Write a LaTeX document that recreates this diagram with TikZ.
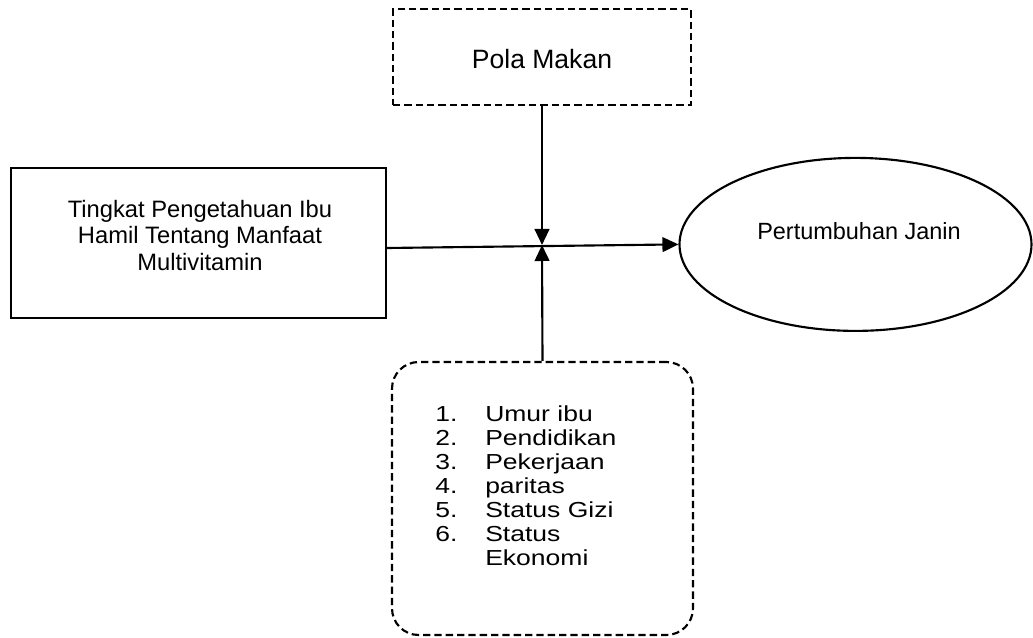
\documentclass[tikz,border=0pt]{standalone}
\usepackage{fontspec}
\setmainfont{Liberation Sans}
\newfontfamily\lebarfont{Liberation Sans}[FakeStretch=1.22]
\usetikzlibrary{shapes.geometric,arrows.meta}

\begin{document}
\begin{tikzpicture}[x=0.75pt,y=-0.75pt,
    >={Triangle[length=12pt,width=11pt]},
    kotak/.style={draw, line width=1.6pt, inner sep=0pt},
    putus/.style={dash pattern=on 5.5pt off 3pt},
    panah/.style={->, line width=1.6pt}]
    \useasboundingbox (0,0) rectangle (1033,638);

    \node[kotak, putus, minimum width=223.5pt, minimum height=72pt] (pola) at (542,57) {};
    \node[anchor=base, font=\fontsize{19.9}{24}\selectfont] (polateks) at (542,68.3) {Pola Makan};

    \node[kotak, minimum width=281.25pt, minimum height=112.5pt] (tingkat) at (198.5,243) {};
    \node[align=center, font=\fontsize{17.8}{20}\selectfont] (tingkatteks) at (200,235.5) {Tingkat Pengetahuan Ibu\\Hamil Tentang Manfaat\\Multivitamin};

    \node[kotak, ellipse, minimum width=264pt, minimum height=129.75pt] (janin) at (855.5,244.4) {};
    \node[anchor=base, font=\fontsize{17.6}{21}\selectfont] (janinteks) at (859,239.3) {Pertumbuhan Janin};

    \node[kotak, putus, rounded corners=20pt, minimum width=225.75pt, minimum height=204.75pt] (faktor) at (542.5,498.5) {};
    \node[anchor=west, align=left, inner sep=0pt, font=\lebarfont\fontsize{16.3}{18}\selectfont] (faktorteks) at (435,485.4) {\makebox[37.5pt][l]{1.}Umur ibu\\\makebox[37.5pt][l]{2.}Pendidikan\\\makebox[37.5pt][l]{3.}Pekerjaan\\\makebox[37.5pt][l]{4.}paritas\\\makebox[37.5pt][l]{5.}Status Gizi\\\makebox[37.5pt][l]{6.}Status\\\hspace*{37.5pt}Ekonomi};

    \coordinate (temu) at (542,245);

    \draw[panah] ([yshift=-3.75pt]tingkat.east) -- (janin.west);
    \draw[panah] (pola.south) -- (temu);
    \draw[panah] (faktor.north) -- (temu);
\end{tikzpicture}
\end{document}
